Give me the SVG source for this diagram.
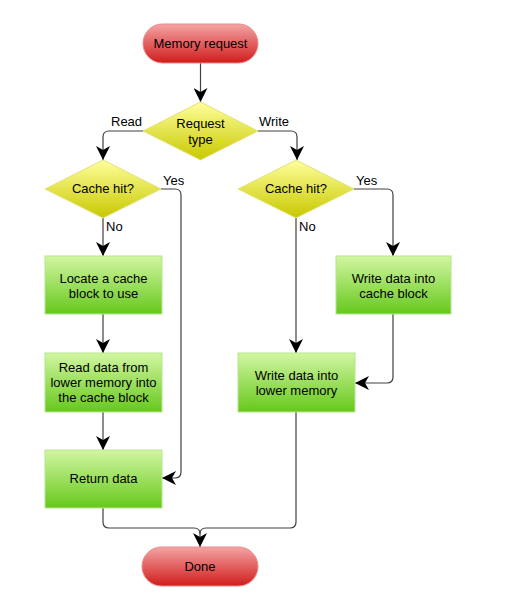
<svg xmlns="http://www.w3.org/2000/svg" width="516" height="605" viewBox="0 0 516 605">
<defs>
<linearGradient id="gRed" x1="0" y1="0" x2="0" y2="1"><stop offset="0" stop-color="#f4a4a4"/><stop offset="1" stop-color="#d11c1c"/></linearGradient>
<linearGradient id="gGreen" x1="0" y1="0" x2="0" y2="1"><stop offset="0" stop-color="#d2f6a2"/><stop offset="1" stop-color="#66c81c"/></linearGradient>
<linearGradient id="gYellow" x1="0" y1="0" x2="0" y2="1"><stop offset="0" stop-color="#ffff9c"/><stop offset="1" stop-color="#c8c800"/></linearGradient>
<marker id="arr" viewBox="0 0 14 14" refX="14" refY="7" markerWidth="14" markerHeight="14" markerUnits="userSpaceOnUse" orient="auto">
<path d="M0,0 L14,7 L0,14 L4,7 Z" fill="#000"/>
</marker>
<style>
.term{fill:url(#gRed);stroke:#e88a8a;stroke-width:1}
.proc{fill:url(#gGreen);stroke:#b6e68c;stroke-width:1}
.dec{fill:url(#gYellow);stroke:#e2e27a;stroke-width:1}
.t{font-family:"Liberation Sans",Arial,sans-serif;font-size:13px;fill:#000;text-anchor:middle}
.lbl{font-family:"Liberation Sans",Arial,sans-serif;font-size:13px;fill:#000}
.c{fill:none;stroke:#404040;stroke-width:1.2}
</style>
</defs>
<g id="connectors">
<path class="c" d="M200.5,63 V102" marker-end="url(#arr)"/>
<path class="c" d="M143,131 H109 Q103,131 103,137 V160" marker-end="url(#arr)"/>
<path class="c" d="M258,131 H291 Q297,131 297,137 V160" marker-end="url(#arr)"/>
<path class="c" d="M103,218 V256" marker-end="url(#arr)"/>
<path class="c" d="M161,189 H175 Q181,189 181,195 V472 Q181,478 175,478 H162" marker-end="url(#arr)"/>
<path class="c" d="M103,314 V353" marker-end="url(#arr)"/>
<path class="c" d="M103,412 V450" marker-end="url(#arr)"/>
<path class="c" d="M296,218 V353" marker-end="url(#arr)"/>
<path class="c" d="M354,189 H387 Q393,189 393,195 V256" marker-end="url(#arr)"/>
<path class="c" d="M393,314 V377 Q393,383 387,383 H355" marker-end="url(#arr)"/>
<path class="c" d="M103,508 V522 Q103,528 109,528 H194 Q200,528 200,534 V547" marker-end="url(#arr)"/>
<path class="c" d="M296,412 V522 Q296,528 290,528 H206 Q200,528 200,534"/>
<text class="lbl" x="111" y="126">Read</text>
<text class="lbl" x="259" y="126">Write</text>
<text class="lbl" x="163" y="185">Yes</text>
<text class="lbl" x="356" y="185">Yes</text>
<text class="lbl" x="106" y="231">No</text>
<text class="lbl" x="299" y="231">No</text>
</g>
<g id="memory-request">
<rect class="term" x="143" y="24" width="115" height="39" rx="19.5"/>
<text class="t" x="200.5" y="48">Memory request</text>
</g>
<g id="request-type">
<polygon class="dec" points="200.5,102 258,131 200.5,160 143,131"/>
<text class="t" x="200.5" y="128">Request</text>
<text class="t" x="200.5" y="144">type</text>
</g>
<g id="cache-hit-read">
<polygon class="dec" points="103,160 161,189 103,218 45,189"/>
<text class="t" x="103" y="193">Cache hit?</text>
</g>
<g id="cache-hit-write">
<polygon class="dec" points="296,160 354,189 296,218 238,189"/>
<text class="t" x="296" y="193">Cache hit?</text>
</g>
<g id="locate-block">
<rect class="proc" x="45" y="256" width="117" height="58"/>
<text class="t" x="103.5" y="283">Locate a cache</text>
<text class="t" x="103.5" y="298">block to use</text>
</g>
<g id="read-data">
<rect class="proc" x="45" y="353" width="117" height="59"/>
<text class="t" x="103.5" y="372">Read data from</text>
<text class="t" x="103.5" y="387">lower memory into</text>
<text class="t" x="103.5" y="402">the cache block</text>
</g>
<g id="return-data">
<rect class="proc" x="45" y="450" width="117" height="58"/>
<text class="t" x="103.5" y="483">Return data</text>
</g>
<g id="write-cache">
<rect class="proc" x="336" y="256" width="115" height="58"/>
<text class="t" x="393.5" y="283">Write data into</text>
<text class="t" x="393.5" y="298">cache block</text>
</g>
<g id="write-lower">
<rect class="proc" x="238" y="353" width="117" height="59"/>
<text class="t" x="296.5" y="380">Write data into</text>
<text class="t" x="296.5" y="395">lower memory</text>
</g>
<g id="done">
<rect class="term" x="142" y="547" width="116" height="39" rx="19.5"/>
<text class="t" x="200" y="571">Done</text>
</g>
</svg>
